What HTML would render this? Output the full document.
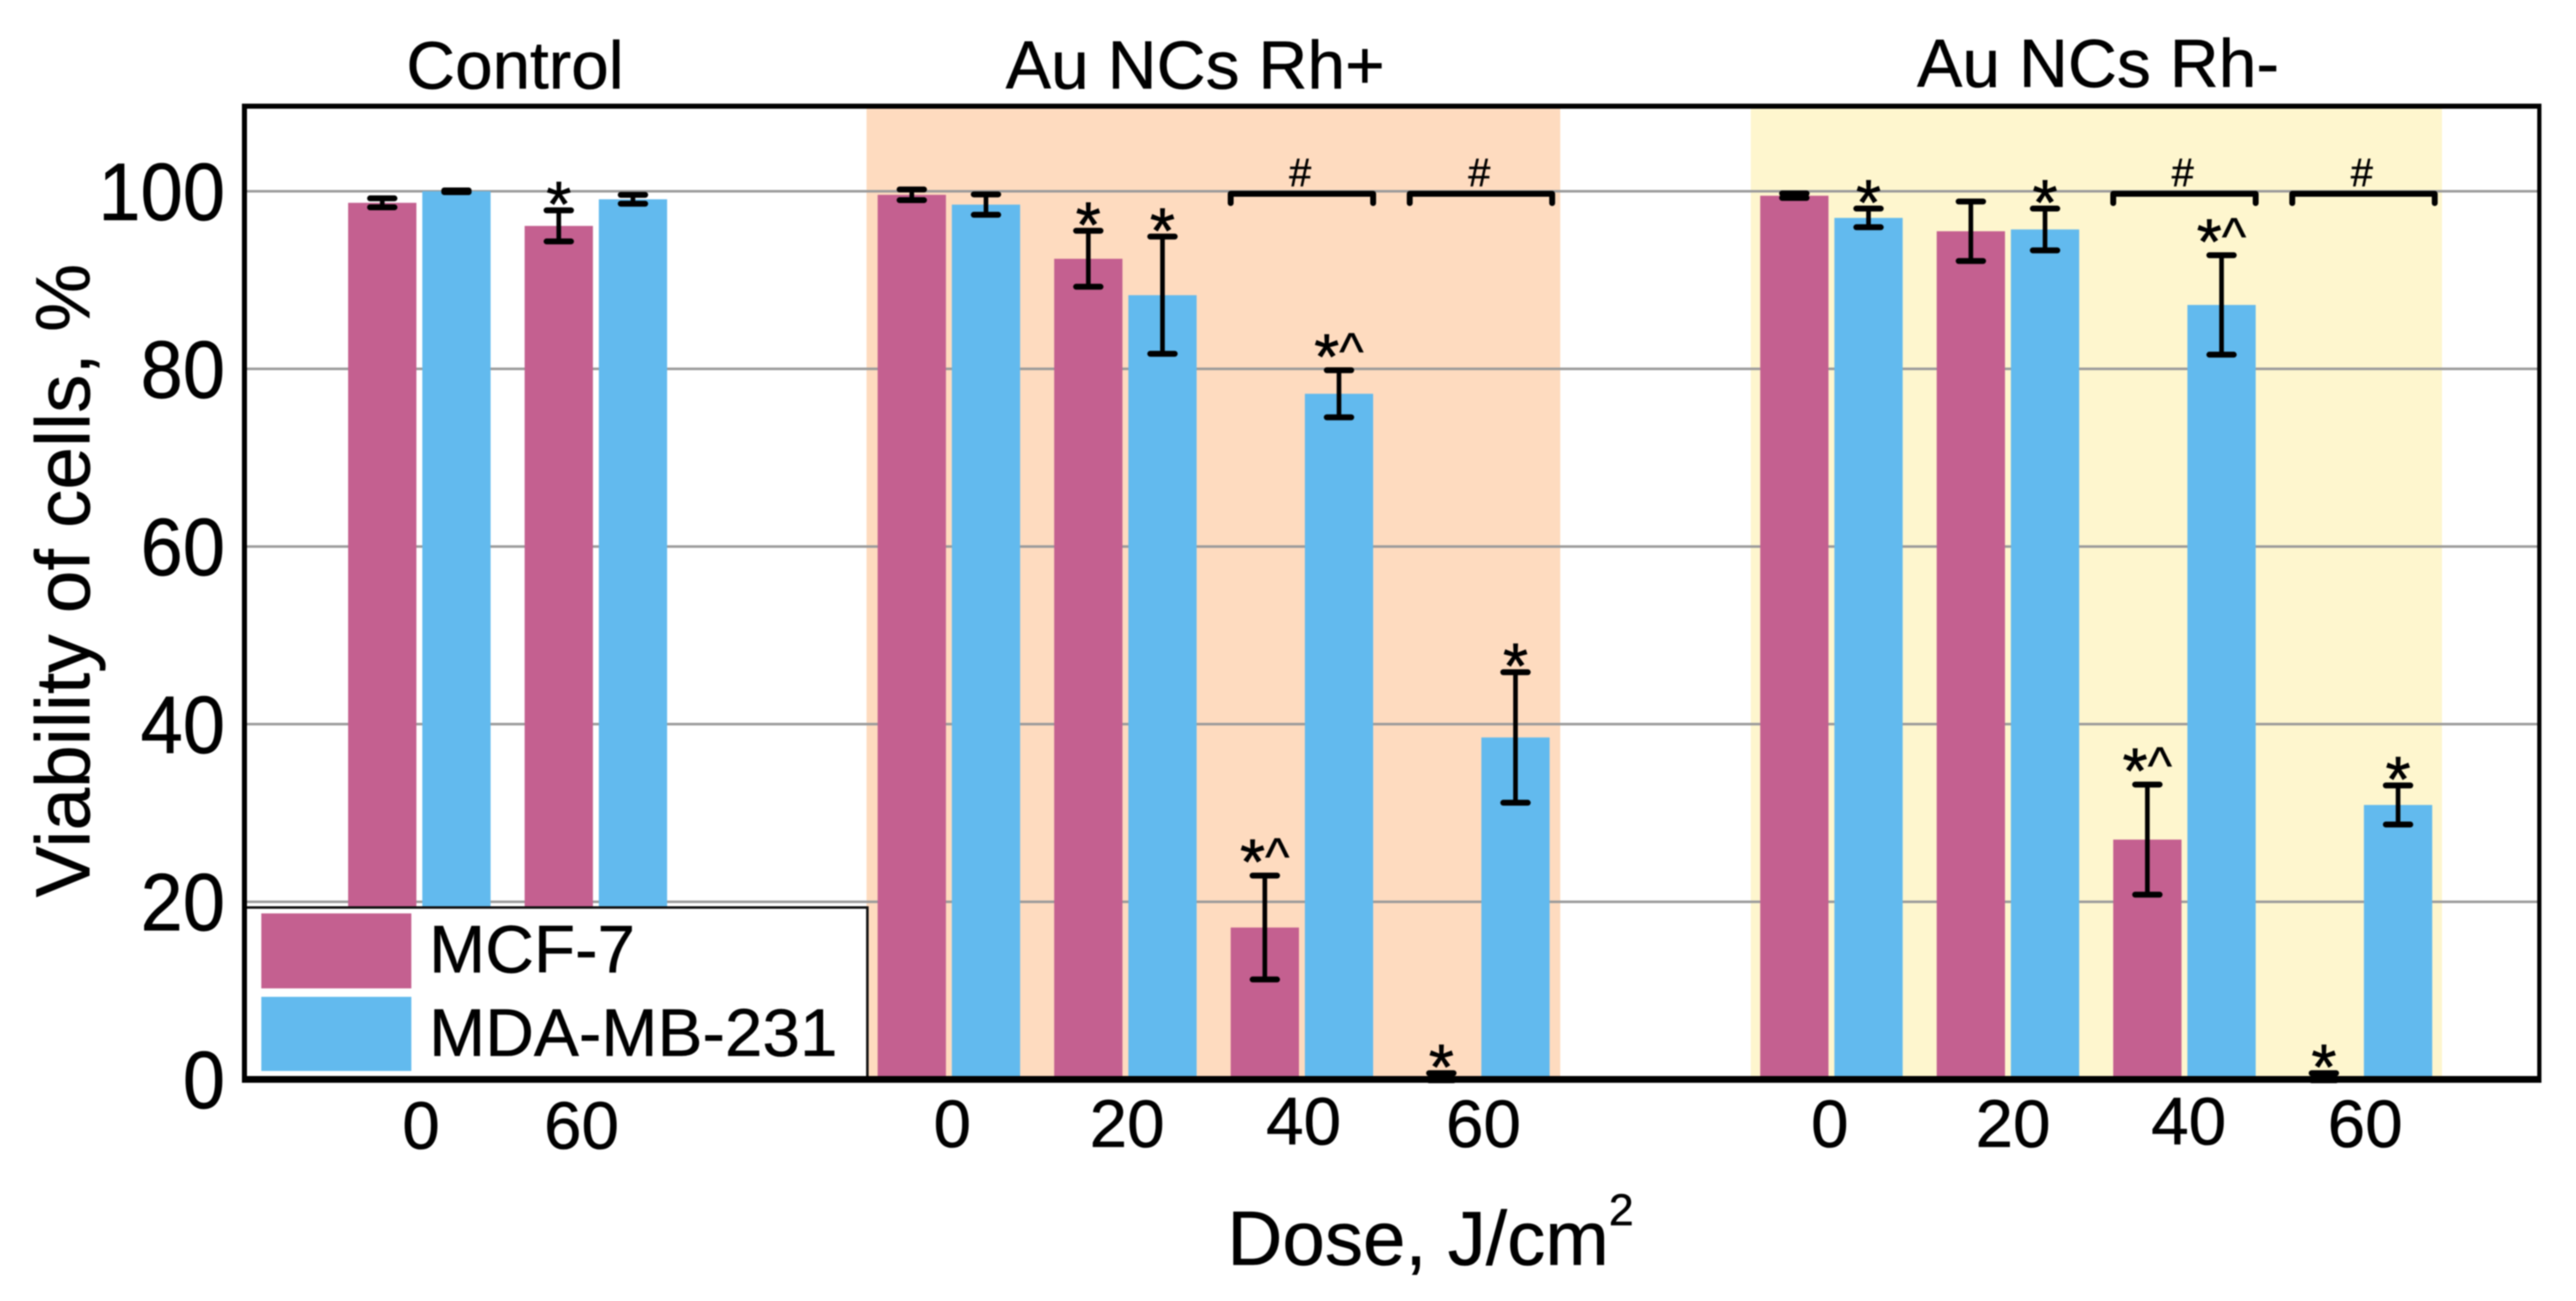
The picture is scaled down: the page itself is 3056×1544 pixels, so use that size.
<!DOCTYPE html>
<html lang="en">
<head>
<meta charset="utf-8">
<title>Viability of cells</title>
<style>
html,body{margin:0;padding:0;background:#fff;}
svg{display:block;font-family:"Liberation Sans",sans-serif;filter:blur(0.7px);}
text{stroke:#000;stroke-width:0.6px;}
</style>
</head>
<body>
<svg id="chart" xmlns="http://www.w3.org/2000/svg" width="3056" height="1544" viewBox="0 0 3056 1544">
  <rect x="0" y="0" width="3056" height="1544" fill="#fff"/>
  <rect x="1028" y="126" width="823" height="1153" fill="#FEDBBF"/>
  <rect x="2077" y="126" width="820" height="1153" fill="#FEF6CE"/>
  <g id="grid"></g>
  <g id="bars"></g>
  <g id="errors"></g>
  <g id="brackets"></g>
  <g id="marks"></g>

  <g>
    <rect x="290" y="1077" width="739" height="204" fill="#fff" stroke="#111" stroke-width="3"/>
    <rect x="310" y="1084" width="178" height="89" fill="#C46090"/>
    <text x="509" y="1154" font-size="80" fill="#000">MCF-7</text>
    <rect x="310" y="1183" width="178" height="88" fill="#62BAEE"/>
    <text x="509" y="1253" font-size="80" fill="#000">MDA-MB-231</text>
  </g>

  <g fill="#000">
    <rect x="287" y="123" width="2728" height="6"/>
    <rect x="287" y="123" width="6" height="1162"/>
    <rect x="3010" y="123" width="5" height="1162"/>
    <rect x="287" y="1277" width="2728" height="8"/>
  </g>

  <g id="yticks"></g>
  <g id="xticks"></g>

  <text x="611" y="105" font-size="80" text-anchor="middle" fill="#000">Control</text>
  <text x="1418" y="105" font-size="80.5" text-anchor="middle" fill="#000">Au NCs Rh+</text>
  <text x="2489" y="103" font-size="80.5" text-anchor="middle" fill="#000">Au NCs Rh-</text>

  <text transform="translate(106 689) rotate(-90)" font-size="91" text-anchor="middle" fill="#000">Viability of cells, %</text>
  <text x="1456" y="1501" font-size="90.5" fill="#000">Dose, J/cm<tspan font-size="53" dy="-47">2</tspan></text>
</svg>

<script>
// Category slots along the x axis (gaps separate the three groups)
const slots = [0, 1, 3, 4, 5, 6, 8, 9, 10, 11];
const doseLabels = ["0", "60", "0", "20", "40", "60", "0", "20", "40", "60"];

// Series values, % viability
const mcf7Values = [98.7, 96.1, 99.6, 92.4, 17.1, 0.3, 99.5, 95.5, 27.0, 0.3];
const mdaValues = [100.0, 99.1, 98.5, 88.3, 77.2, 38.5, 97.0, 95.7, 87.2, 30.9];
const mcf7Errors = [0.5, 1.75, 0.6, 3.15, 5.85, 0.4, 0.25, 3.35, 6.2, 0.4];
const mdaErrors = [0.1, 0.5, 1.15, 6.6, 2.65, 7.35, 1.05, 2.35, 5.6, 2.2];

// Significance labels printed above each bar
const mcf7Marks = ["", "*", "", "*", "*^", "*", "", "", "*^", "*"];
const mdaMarks = ["", "", "", "*", "*^", "*", "*", "*", "*^", "*"];

// Slots joined by a # bracket
const bracketSlots = [5, 6, 10, 11];
const yTickLabels = [0, 20, 40, 60, 80, 100];

const NS = "http://www.w3.org/2000/svg";
const PINK = "#C46090";
const BLUE = "#62BAEE";
const BAR_W = 81;

function y(v) { return 1281 - 10.54 * v; }
function xLeft(slot) { return 413 + 209.4 * slot; }
function xCenter(slot) { return xLeft(slot) + 84.5; }

// Hand-placed tick label offsets seen in the figure, by slot
function tickShiftX(slot) {
  if (slot === 1) return -17;
  if (slot === 3) return 4;
  if (slot === 6) return 6;
  if (slot === 8) return -2;
  if (slot === 9) return 6;
  if (slot === 10 || slot === 11) return 5;
  return 2;
}
function tickShiftY(slot) {
  if (slot === 5 || slot === 10) return -3;
  if (slot === 0 || slot === 1) return 2;
  return 0;
}

function make(tag, attrs, parent) {
  const el = document.createElementNS(NS, tag);
  for (const k in attrs) el.setAttribute(k, attrs[k]);
  parent.appendChild(el);
  return el;
}

const gridG = document.getElementById("grid");
const barsG = document.getElementById("bars");
const errG = document.getElementById("errors");
const brG = document.getElementById("brackets");
const marksG = document.getElementById("marks");
const yG = document.getElementById("yticks");
const xG = document.getElementById("xticks");

yTickLabels.forEach(function (t) {
  if (t > 0) {
    const line = make("line", { x1: 293, x2: 3010, y1: y(t), y2: y(t), stroke: "#9a9a9a", "stroke-width": 3 }, gridG);
    
    
  }
  const label = make("text", { transform: "translate(267 " + (y(t) + 34) + ") scale(0.98 1.05)", "font-size": 92, "text-anchor": "end", fill: "#000" }, yG);
  
  
  label.textContent = String(t);
});

slots.forEach(function (slot, i) {
  const label = make("text", { x: xCenter(slot) + tickShiftX(slot), y: 1361 + tickShiftY(slot), "font-size": 80, "text-anchor": "middle", fill: "#000" }, xG);
  
  
  label.textContent = doseLabels[i];
});

function drawError(cx, value, err) {
  const g = make("g", { stroke: "#000", "stroke-linecap": "round" }, errG);
  
  
  const top = y(value + err);
  const bot = y(value - err);
  make("line", { x1: cx, x2: cx, y1: top, y2: bot, "stroke-width": 5.5 }, g);
  make("line", { x1: cx - 14.5, x2: cx + 14.5, y1: top, y2: top, "stroke-width": 7 }, g);
  make("line", { x1: cx - 14.5, x2: cx + 14.5, y1: bot, y2: bot, "stroke-width": 7 }, g);
}

function drawMark(cx, value, err, mark) {
  if (!mark) return;
  const hasCaret = mark.indexOf("^") >= 0;
  const base = y(value + err) + (hasCaret ? 10 : 19);
  const text = make("text", { x: cx, y: base, "font-size": 76, "text-anchor": "middle", fill: "#000", style: "stroke-width:0.8px" }, marksG);
  
  
  const star = make("tspan", {}, text);
  star.textContent = "*";
  if (hasCaret) {
    const caret = make("tspan", { "font-size": 62, dy: -11, style: "stroke-width:0.4px" }, text);
    caret.textContent = "^";
  }
}

slots.forEach(function (slot, i) {
  const px = xLeft(slot);
  const bx = px + 88;
  const pink = make("rect", { x: px, y: y(mcf7Values[i]), width: BAR_W, height: y(0) - y(mcf7Values[i]), fill: PINK }, barsG);
  
  
  const blue = make("rect", { x: bx, y: y(mdaValues[i]), width: BAR_W, height: y(0) - y(mdaValues[i]), fill: BLUE }, barsG);
  
  
  drawError(px + BAR_W / 2, mcf7Values[i], mcf7Errors[i]);
  drawError(bx + BAR_W / 2, mdaValues[i], mdaErrors[i]);
  drawMark(px + BAR_W / 2, mcf7Values[i], mcf7Errors[i], mcf7Marks[i]);
  drawMark(bx + BAR_W / 2, mdaValues[i], mdaErrors[i], mdaMarks[i]);
});

bracketSlots.forEach(function (slot) {
  const shift = (slot === 6 || slot === 11) ? 3 : 0;
  const x1 = xLeft(slot) + shift;
  const x2 = xLeft(slot) + 88 + BAR_W + shift;
  const top = y(100) + 3;
  const path = make("path", {
    d: "M" + x1 + " " + (top + 11) + " V" + top + " H" + x2 + " V" + (top + 11),
    fill: "none", stroke: "#000", "stroke-width": 7, "stroke-linejoin": "round", "stroke-linecap": "round"
  }, brG);
  
  
  const hash = make("text", { x: (x1 + x2) / 2 - 2, y: top - 9, "font-size": 47, "text-anchor": "middle", fill: "#000" }, brG);
  
  
  hash.textContent = "#";
});
</script>
</body>
</html>
